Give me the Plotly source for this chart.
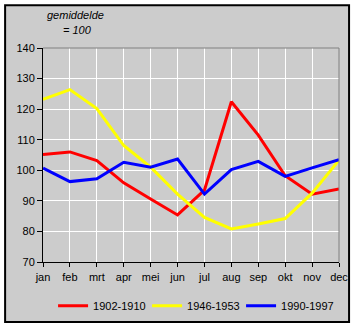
import plotly.graph_objects as go

months = ["jan", "feb", "mrt", "apr", "mei", "jun", "jul", "aug", "sep", "okt", "nov", "dec"]
s1902 = [105.2, 106.0, 103.2, 95.9, 90.6, 85.4, 93.5, 122.4, 111.5, 98.2, 92.2, 93.9]
s1946 = [123.2, 126.4, 120.2, 108.1, 101.0, 92.2, 84.6, 80.8, 82.4, 84.2, 92.5, 103.3]
s1990 = [100.7, 96.3, 97.2, 102.6, 101.0, 103.7, 92.2, 100.2, 102.9, 98.0, 100.8, 103.5]
series = [("1902-1910", s1902, "#ff0000"), ("1946-1953", s1946, "#ffff00"), ("1990-1997", s1990, "#0000ff")]
yticks = [70, 80, 90, 100, 110, 120, 130, 140]

fig = go.Figure()
xs = list(range(len(months)))
for name, vals, col in series:
    fig.add_trace(go.Scatter(x=xs, y=vals, name=name, mode="lines",
                             line=dict(color=col, width=3)))

font = dict(family="Liberation Sans, Arial, sans-serif", size=11, color="#000000")
fig.update_layout(
    width=356, height=328,
    margin=dict(l=43, r=17, t=48, b=66, autoexpand=False),
    paper_bgcolor="#ffffff", plot_bgcolor="#cccccc",
    font=font,
    showlegend=True,
    legend=dict(orientation="h", x=0.034, xanchor="left", y=-0.205, yanchor="middle",
                bgcolor="rgba(0,0,0,0)", font=font, entrywidth=49, entrywidthmode="pixels",
                itemwidth=30, tracegroupgap=0),
    xaxis=dict(range=[0, 11], tickmode="array", tickvals=xs, ticktext=months,
               showgrid=True, gridcolor="#ffffff", gridwidth=1,
               showline=True, linecolor="#000000", linewidth=1,
               ticks="outside", ticklen=4, tickcolor="#000000", zeroline=False,
               ticklabelstandoff=1, automargin=False),
    yaxis=dict(range=[70, 140], tickmode="array", tickvals=yticks,
               showgrid=True, gridcolor="#ffffff", gridwidth=1,
               showline=True, linecolor="#000000", linewidth=1,
               ticks="outside", ticklen=5, tickcolor="#000000", zeroline=False,
               automargin=False),
    shapes=[
        dict(type="rect", xref="paper", yref="paper", x0=-0.128, x1=1.034, y0=-0.280, y1=1.2,
             line=dict(color="#000000", width=2), fillcolor="#cccccc", layer="below"),
        dict(type="line", xref="paper", yref="paper", x0=0, x1=1, y0=1, y1=1,
             line=dict(color="#808080", width=1)),
        dict(type="line", xref="paper", yref="paper", x0=1, x1=1, y0=0, y1=1,
             line=dict(color="#808080", width=1)),
    ],
    annotations=[
        dict(text="<i>gemiddelde</i>", xref="paper", yref="paper", x=(45-43)/296, y=(262-15)/214,
             xanchor="left", yanchor="middle", showarrow=False, font=font),
        dict(text="<i>= 100</i>", xref="paper", yref="paper", x=(61-43)/296, y=(262-30)/214,
             xanchor="left", yanchor="middle", showarrow=False, font=font),
    ],
)
fig.write_html("out.html")
